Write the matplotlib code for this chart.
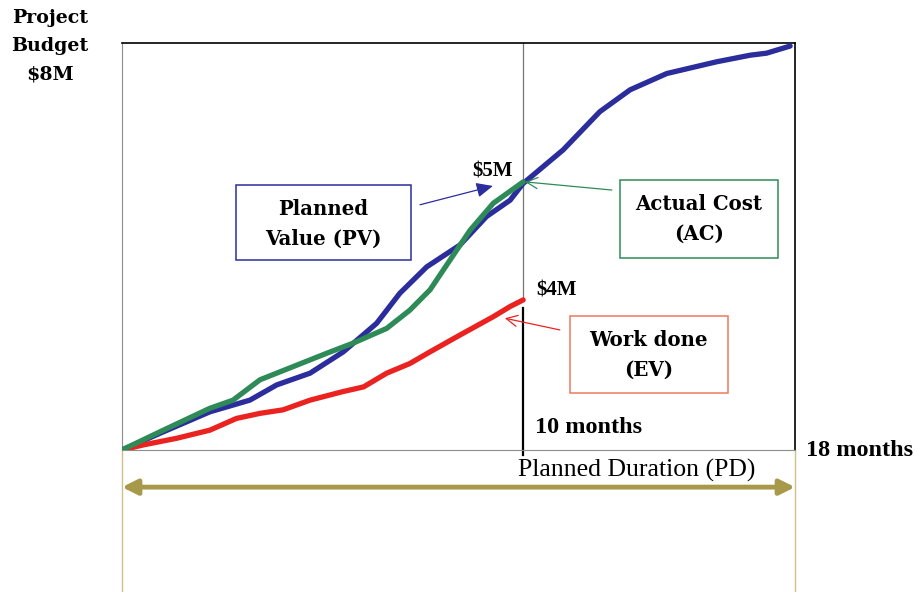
import matplotlib
matplotlib.use("Agg")
import matplotlib.pyplot as plt
from matplotlib.patches import Rectangle

# schematic earned value chart, x in months, y in $M
pv_month = [0, 1.02, 2.35, 3.42, 4.14, 5.03, 5.92, 6.81, 7.43, 8.15, 9.04, 9.75, 10.38, 10.73,
            11.80, 12.78, 13.59, 14.57, 15.90, 16.80, 17.24, 17.87]
pv_value = [0, 0.33, 0.75, 0.98, 1.28, 1.51, 1.93, 2.49, 3.08, 3.60, 4.03, 4.59, 4.91, 5.24,
            5.90, 6.65, 7.08, 7.40, 7.63, 7.76, 7.80, 7.94]

ac_month = [0, 1.02, 2.35, 2.97, 3.69, 4.58, 5.47, 6.18, 7.08, 7.70, 8.24, 8.77, 9.31, 9.93, 10.73]
ac_value = [0, 0.36, 0.82, 0.98, 1.38, 1.64, 1.90, 2.10, 2.39, 2.75, 3.15, 3.73, 4.32, 4.85, 5.27]

ev_month = [0, 0.57, 1.46, 2.35, 3.06, 3.69, 4.31, 5.03, 5.92, 6.46, 7.08, 7.70, 8.24, 9.04,
            9.93, 10.38, 10.73]
ev_value = [0, 0.10, 0.23, 0.39, 0.62, 0.72, 0.79, 0.98, 1.15, 1.24, 1.51, 1.70, 1.93, 2.26,
            2.62, 2.82, 2.95]

budget = 8
duration = 18
status_month = 10.73

BLUE = "#2a2d9b"
GREEN = "#2e8b57"
RED = "#ea2320"
KHAKI = "#a8994a"

fig = plt.figure(figsize=(9.17, 5.92), dpi=100)
ax = fig.add_axes([122 / 917, 142 / 592, 673 / 917, 407 / 592])
ax.set_xlim(0, duration)
ax.set_ylim(0, budget)
ax.set_xticks([])
ax.set_yticks([])
for side in ["left", "bottom"]:
    ax.spines[side].set_color("#8c8c8c")
for side in ["top", "right"]:
    ax.spines[side].set_color("black")
    ax.spines[side].set_linewidth(1.2)

ax.plot(pv_month, pv_value, color=BLUE, lw=3.8, solid_capstyle="round", zorder=3)
ax.plot(ac_month, ac_value, color=GREEN, lw=3.8, solid_capstyle="round", zorder=4)
ax.plot(ev_month, ev_value, color=RED, lw=3.8, solid_capstyle="round", zorder=3)

# status date line
ax.plot([status_month, status_month], [3.0, budget], color="#777777", lw=0.9, zorder=2)
ax.plot([status_month, status_month], [-0.1, 2.8], color="black", lw=1.6, zorder=2, clip_on=False)

serif = "DejaVu Serif"
times = "Liberation Serif"

fig.text(50 / 917, 1 - 46 / 592, "Project\nBudget\n$8M", ha="center", va="center",
         family=serif, weight="bold", fontsize=13.7, linespacing=1.72)

ax.text(9.92, 5.48, "$5M", ha="center", va="center", family=times, weight="bold", fontsize=15)
ax.text(11.63, 3.14, "$4M", ha="center", va="center", family=times, weight="bold", fontsize=15)
ax.text(11.05, 0.45, "10 months", ha="left", va="center", family=times, weight="bold",
        fontsize=17.5)
ax.text(18.29, 0.0, "18 months", ha="left", va="center", family=times, weight="bold",
        fontsize=17.5, clip_on=False)
ax.text(13.77, -0.40, "Planned Duration (PD)", ha="center", va="center", family=times,
        fontsize=18.5, clip_on=False)

# planned duration arrow and guides
ax.annotate("", xy=(0, -0.73), xytext=(duration, -0.73), annotation_clip=False,
            arrowprops=dict(arrowstyle="<|-|>,head_length=0.9,head_width=0.45", color=KHAKI,
                            lw=3.5, shrinkA=0, shrinkB=0))
ax.plot([0, 0], [0, -2.8], color="#cfc08a", lw=1, clip_on=False)
ax.plot([duration, duration], [0, -2.8], color="#cfc08a", lw=1, clip_on=False)

# callout boxes
boxes = [
    (3.05, 3.73, 4.68, 1.48, BLUE, "Planned\nValue (PV)", 5.38, 4.45),
    (13.32, 3.77, 4.23, 1.54, GREEN, "Actual Cost\n(AC)", 15.43, 4.54),
    (11.98, 1.12, 4.23, 1.51, "#f07860", "Work done\n(EV)", 14.09, 1.87),
]
for x, y, w, h, col, label, tx, ty in boxes:
    ax.add_patch(Rectangle((x, y), w, h, fill=True, facecolor="white", edgecolor=col,
                           lw=1.1, zorder=5))
    ax.text(tx, ty, label, ha="center", va="center", family=serif, weight="bold",
            fontsize=14.2, linespacing=1.6, zorder=6)

ax.annotate("", xy=(9.92, 5.19), xytext=(7.97, 4.82),
            arrowprops=dict(arrowstyle="-|>,head_length=1.0,head_width=0.45", color=BLUE,
                            lw=0.9, shrinkA=0, shrinkB=0), zorder=6)
ax.annotate("", xy=(10.78, 5.27), xytext=(13.10, 5.11),
            arrowprops=dict(arrowstyle="->,head_length=0.8,head_width=0.4", color=GREEN,
                            lw=0.9, shrinkA=0, shrinkB=0), zorder=6)
ax.annotate("", xy=(10.24, 2.59), xytext=(11.71, 2.36),
            arrowprops=dict(arrowstyle="->,head_length=0.8,head_width=0.4", color=RED,
                            lw=0.9, shrinkA=0, shrinkB=0), zorder=6)

fig.savefig("out.png", dpi=100)
